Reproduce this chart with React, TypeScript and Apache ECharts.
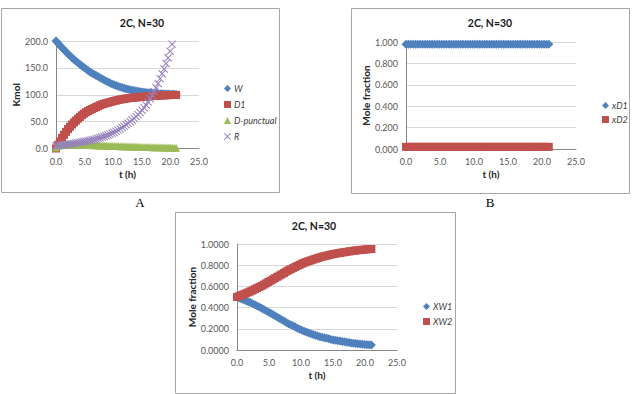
import React, { useEffect, useRef } from "react";
import * as echarts from "echarts";

// Time axis (h), shared by every panel
const T = [
  0, 0.35, 0.7, 1.05, 1.4, 1.75, 2.1, 2.45, 2.8, 3.15,
  3.5, 3.85, 4.2, 4.55, 4.9, 5.25, 5.6, 5.95, 6.3, 6.65,
  7.0, 7.35, 7.7, 8.05, 8.4, 8.75, 9.1, 9.45, 9.8, 10.15,
  10.5, 10.85, 11.2, 11.55, 11.9, 12.25, 12.6, 12.95, 13.3, 13.65,
  14.0, 14.35, 14.7, 15.05, 15.4, 15.75, 16.1, 16.45, 16.8, 17.15,
  17.5, 17.85, 18.2, 18.55, 18.9, 19.25, 19.6, 19.95, 20.3, 20.65,
  21.0,
];

// Panel A: holdups and flows (Kmol)
const W = [
  200, 195.8, 191.6, 187.5, 183.6, 179.8, 176, 172.5, 169, 165.6,
  162.5, 159.4, 156.4, 153.6, 150.8, 148, 145.2, 142.4, 140.2, 138.1,
  136, 133.9, 131.8, 129.7, 127.6, 125.5, 123.5, 121.8, 120, 118.4,
  117, 115.6, 114.4, 113.4, 112.3, 111.2, 110.2, 109.2, 108.4, 107.7,
  107, 106.3, 105.6, 105, 104.6, 104.3, 103.9, 103.6, 103.2, 102.9,
  102.5, 102.2, 101.9, 101.7, 101.6, 101.4, 101.2, 101, 100.9, 100.7,
  100.5,
];
const D1 = [
  0, 7, 13.5, 19.8, 25.5, 31, 36.2, 40.4, 44.6, 48.5,
  52, 55.5, 58.8, 62, 65, 67.5, 69.6, 71.7, 73.5, 75.2,
  77, 78.7, 80.5, 82.1, 83.2, 84.2, 85.3, 86.4, 87.4, 88.4,
  89.3, 90.1, 90.9, 91.6, 92.3, 92.9, 93.4, 93.9, 94.3, 94.6,
  95, 95.4, 95.7, 96, 96.4, 96.7, 97.1, 97.4, 97.6, 97.9,
  98.1, 98.3, 98.5, 98.7, 98.9, 99.1, 99.2, 99.4, 99.5, 99.6,
  99.7,
];
const D_PUNCTUAL = [
  2, 5, 7, 7.6, 7.8, 7.8, 7.8, 7.7, 7.6, 7.6,
  7.5, 7.4, 7.2, 7.1, 6.9, 6.8, 6.7, 6.5, 6.4, 6.2,
  6.1, 6.0, 5.8, 5.7, 5.5, 5.4, 5.3, 5.1, 5.0, 4.8,
  4.7, 4.6, 4.4, 4.3, 4.1, 4.0, 3.9, 3.7, 3.6, 3.5,
  3.4, 3.3, 3.1, 3.0, 2.9, 2.8, 2.7, 2.6, 2.5, 2.4,
  2.3, 2.2, 2.1, 2.0, 1.9, 1.9, 1.8, 1.7, 1.6, 1.6,
  1.5,
];
const R = [
  5, 5.4, 5.8, 6.3, 6.8, 7.3, 7.8, 8.3, 8.9, 9.5,
  10.1, 10.8, 11.5, 12.2, 12.9, 13.6, 14.4, 15.2, 16, 16.9,
  17.9, 18.9, 20, 21.2, 22.5, 23.8, 25.2, 26.7, 28.3, 30,
  32, 34.2, 36.5, 39, 41.5, 44.2, 47, 50, 53, 56,
  59.5, 63, 67, 71, 76, 81, 86.5, 92.5, 99, 106,
  113, 121, 130, 139, 148, 158, 169, 181, 194, null,
  null,
];

// Panel B: distillate mole fractions
const XD1 = [
  0.98, 0.98, 0.98, 0.98, 0.98, 0.98, 0.98, 0.98, 0.98, 0.98,
  0.98, 0.98, 0.98, 0.98, 0.98, 0.98, 0.98, 0.98, 0.98, 0.98,
  0.98, 0.98, 0.98, 0.98, 0.98, 0.98, 0.98, 0.98, 0.98, 0.98,
  0.98, 0.98, 0.98, 0.98, 0.98, 0.98, 0.98, 0.98, 0.98, 0.98,
  0.98, 0.98, 0.98, 0.98, 0.98, 0.98, 0.98, 0.98, 0.98, 0.98,
  0.98, 0.98, 0.98, 0.98, 0.98, 0.98, 0.98, 0.98, 0.98, 0.98,
  0.98,
];
const XD2 = [
  0.02, 0.02, 0.02, 0.02, 0.02, 0.02, 0.02, 0.02, 0.02, 0.02,
  0.02, 0.02, 0.02, 0.02, 0.02, 0.02, 0.02, 0.02, 0.02, 0.02,
  0.02, 0.02, 0.02, 0.02, 0.02, 0.02, 0.02, 0.02, 0.02, 0.02,
  0.02, 0.02, 0.02, 0.02, 0.02, 0.02, 0.02, 0.02, 0.02, 0.02,
  0.02, 0.02, 0.02, 0.02, 0.02, 0.02, 0.02, 0.02, 0.02, 0.02,
  0.02, 0.02, 0.02, 0.02, 0.02, 0.02, 0.02, 0.02, 0.02, 0.02,
  0.02,
];

// Panel C: still-pot mole fractions
const XW1 = [
  0.5, 0.491, 0.482, 0.474, 0.465, 0.456, 0.447, 0.437, 0.426, 0.416,
  0.405, 0.395, 0.383, 0.371, 0.358, 0.346, 0.334, 0.322, 0.309, 0.297,
  0.285, 0.273, 0.26, 0.248, 0.238, 0.228, 0.217, 0.206, 0.196, 0.186,
  0.177, 0.169, 0.161, 0.154, 0.147, 0.14, 0.133, 0.126, 0.12, 0.115,
  0.11, 0.105, 0.1, 0.095, 0.091, 0.087, 0.084, 0.08, 0.077, 0.074,
  0.07, 0.067, 0.064, 0.061, 0.059, 0.057, 0.054, 0.052, 0.05, 0.049,
  0.047,
];
const XW2 = [
  0.5, 0.509, 0.518, 0.526, 0.535, 0.544, 0.553, 0.563, 0.574, 0.584,
  0.595, 0.605, 0.617, 0.629, 0.642, 0.654, 0.666, 0.678, 0.691, 0.703,
  0.715, 0.727, 0.74, 0.752, 0.762, 0.772, 0.783, 0.794, 0.804, 0.814,
  0.823, 0.831, 0.839, 0.846, 0.853, 0.86, 0.867, 0.874, 0.88, 0.885,
  0.89, 0.895, 0.9, 0.905, 0.909, 0.913, 0.916, 0.92, 0.923, 0.926,
  0.93, 0.933, 0.936, 0.939, 0.941, 0.943, 0.946, 0.948, 0.95, 0.951,
  0.953,
];

const TITLE = "2C, N=30";

const BLUE = "#4F81BD";
const RED = "#C0504D";
const GREEN = "#9BBB59";
const PURPLE = "#9580BD";
const CROSS = "path://M0,0.09 L0.09,0 L0.5,0.41 L0.91,0 L1,0.09 L0.59,0.5 L1,0.91 L0.91,1 L0.5,0.59 L0.09,1 L0,0.91 L0.41,0.5 Z";

const FONT = "Lato";

const pairs = (ys: (number | null)[]) => T.map((t, i) => [t, ys[i]]);

function xAxisFor(gridIndex: number, nameGap: number) {
  return {
    gridIndex,
    type: "value",
    min: 0,
    max: 25,
    interval: 5,
    name: "t (h)",
    nameLocation: "middle",
    nameGap,
    nameTextStyle: { fontFamily: FONT, fontWeight: "bold", fontSize: 10, color: "#262626" },
    axisLine: { show: true, lineStyle: { color: "#888888" } },
    axisTick: { show: false },
    splitLine: { show: false },
    axisLabel: {
      fontFamily: FONT,
      fontSize: 9,
      color: "#595959",
      margin: 8,
      formatter: (v: number) => v.toFixed(1),
    },
  };
}

function yAxisFor(gridIndex: number, name: string, max: number, interval: number, digits: number, nameGap: number) {
  return {
    gridIndex,
    type: "value",
    min: 0,
    max,
    interval,
    name,
    nameLocation: "middle",
    nameGap,
    nameTextStyle: { fontFamily: FONT, fontWeight: "bold", fontSize: 10, color: "#262626" },
    axisLine: { show: true, lineStyle: { color: "#888888" } },
    axisTick: { show: false },
    splitLine: { show: true, lineStyle: { color: "#D9D9D9" } },
    axisLabel: {
      fontFamily: FONT,
      fontSize: 9,
      color: "#595959",
      margin: 8,
      formatter: (v: number) => v.toFixed(digits),
    },
  };
}

function scatter(name: string, ys: (number | null)[], idx: number, symbol: string, size: number, color: string) {
  return {
    name,
    type: "scatter",
    xAxisIndex: idx,
    yAxisIndex: idx,
    data: pairs(ys),
    symbol,
    symbolSize: size,
    itemStyle: { color, opacity: 1 },
    emphasis: { disabled: true },
  };
}

function legendFor(names: string[], left: number, top: number, itemGap: number) {
  return {
    data: names,
    orient: "vertical",
    left,
    top,
    itemWidth: 7,
    itemHeight: 7,
    itemGap,
    selectedMode: false,
    textStyle: { fontFamily: FONT, fontStyle: "italic", fontSize: 9, color: "#404040", padding: [0, 0, 0, -2] },
  };
}

function panelText(text: string, x: number, y: number) {
  return {
    type: "text",
    x,
    y,
    style: {
      text,
      fontFamily: FONT,
      fontWeight: "bold",
      fontSize: 10.5,
      fill: "#1a1a1a",
      textAlign: "center",
      textVerticalAlign: "middle",
    },
  };
}

function caption(text: string, x: number, y: number) {
  return {
    type: "text",
    x,
    y,
    style: {
      text,
      fontFamily: "Liberation Serif",
      fontSize: 13,
      fill: "#000000",
      textAlign: "center",
      textVerticalAlign: "middle",
    },
  };
}

function frame(x: number, y: number, w: number, h: number) {
  return {
    type: "rect",
    shape: { x, y, width: w, height: h },
    style: { fill: "none", stroke: "#A6A6A6", lineWidth: 1 },
    silent: true,
  };
}

export default function App() {
  const ref = useRef<HTMLDivElement>(null);

  useEffect(() => {
    if (!ref.current) return;
    const chart = echarts.init(ref.current, undefined, { renderer: "svg" });
    chart.setOption({
      animation: false,
      backgroundColor: "#ffffff",
      grid: [
        { left: 56, top: 41, width: 143, height: 107.5 },
        { left: 406, top: 42, width: 170, height: 107 },
        { left: 237, top: 244, width: 160, height: 106 },
      ],
      xAxis: [xAxisFor(0, 20), xAxisFor(1, 20), xAxisFor(2, 20)],
      yAxis: [
        yAxisFor(0, "Kmol", 200, 50, 1, 29),
        yAxisFor(1, "Mole fraction", 1, 0.2, 3, 31),
        yAxisFor(2, "Mole fraction", 1, 0.2, 4, 37),
      ],
      legend: [
        legendFor(["W", "D1", "D-punctual", "R"], 219, 79, 7),
        legendFor(["xD1", "xD2"], 597, 96, 5),
        legendFor(["XW1", "XW2"], 418, 297, 6),
      ],
      series: [
        scatter("W", W, 0, "diamond", 9, BLUE),
        scatter("D1", D1, 0, "rect", 8, RED),
        scatter("D-punctual", D_PUNCTUAL, 0, "triangle", 8, GREEN),
        scatter("R", R, 0, CROSS, 8, PURPLE),
        scatter("xD1", XD1, 1, "diamond", 9, BLUE),
        scatter("xD2", XD2, 1, "rect", 8, RED),
        scatter("XW1", XW1, 2, "diamond", 9, BLUE),
        scatter("XW2", XW2, 2, "rect", 8, RED),
      ],
      graphic: [
        frame(1.5, 8.5, 278, 184),
        frame(351.5, 8.5, 278, 185),
        frame(175.5, 212.5, 280, 181),
        panelText(TITLE, 142, 23),
        panelText(TITLE, 490, 23),
        panelText(TITLE, 314, 226),
        caption("A", 140, 202),
        caption("B", 490, 202),
      ],
    });
    return () => chart.dispose();
  }, []);

  return (
    <div
      ref={ref}
      style={{ position: "fixed", left: 0, top: 0, width: 642, height: 394, background: "#ffffff" }}
    />
  );
}
